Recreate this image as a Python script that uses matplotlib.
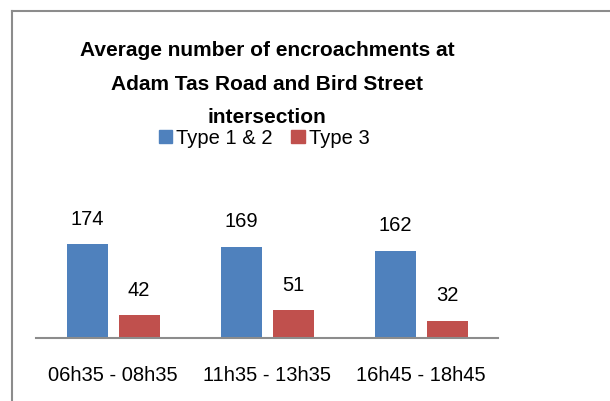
import numpy as np
import matplotlib
matplotlib.use("Agg")
import matplotlib.pyplot as plt
from matplotlib.lines import Line2D
from matplotlib.patches import Patch

# data
periods = ["06h35 - 08h35", "11h35 - 13h35", "16h45 - 18h45"]
type_12 = [174, 169, 162]
type_3 = [42, 51, 32]
series_names = ["Type 1 & 2", "Type 3"]

blue = "#4F81BD"
red = "#C0504D"
plt.rcParams["font.family"] = ["Liberation Sans", "DejaVu Sans"]

W, H = 610, 401
fig = plt.figure(figsize=(W / 100, H / 100), dpi=100)
fig.patch.set_linewidth(0)

# chart border: only left and top edges are visible in the reference
bx, by = 12.5 / W, (H - 11) / H
fig.lines.append(Line2D([bx, bx], [0, by], transform=fig.transFigure, color="#8c8c8c", lw=1.5))
fig.lines.append(Line2D([bx, 1], [by, by], transform=fig.transFigure, color="#8c8c8c", lw=1.5))

# axes: baseline at y=338px, from x=36 to 498px
ax_h = 135
ax = fig.add_axes([36 / W, (H - 338) / H, 462 / W, ax_h / H])
ax.set_ylim(0, ax_h / 0.54)
ax.set_xlim(-0.5, 2.5)

x = np.arange(len(periods))
bw = 41 / 154
gap = 11 / 154
b1 = ax.bar(x - (bw + gap) / 2, type_12, bw, color=blue, label=series_names[0])
b2 = ax.bar(x + (bw + gap) / 2, type_3, bw, color=red, label=series_names[1])
ax.bar_label(b1, padding=11, fontsize=14.5)
ax.bar_label(b2, padding=11, fontsize=14.5)

for s in ["top", "right", "left"]:
    ax.spines[s].set_visible(False)
ax.spines["bottom"].set_color("#8c8c8c")
ax.spines["bottom"].set_linewidth(1.5)
ax.set_yticks([])
ax.set_xticks(x)
ax.set_xticklabels(periods, fontsize=14.5)
ax.tick_params(axis="x", length=0, pad=20)

fig.text(267 / W, (H - 84) / H,
         "Average number of encroachments at\nAdam Tas Road and Bird Street\nintersection",
         ha="center", va="center", fontsize=15, fontweight="bold", linespacing=1.98)

handles = [Patch(color=blue), Patch(color=red)]
fig.legend(handles, series_names, loc="center", bbox_to_anchor=(264 / W, (H - 138) / H),
           ncol=2, frameon=False, fontsize=14.5, handlelength=0.65, handleheight=0.65,
           handletextpad=0.2, columnspacing=0.95, borderpad=0)

fig.savefig("out.png", dpi=100)
